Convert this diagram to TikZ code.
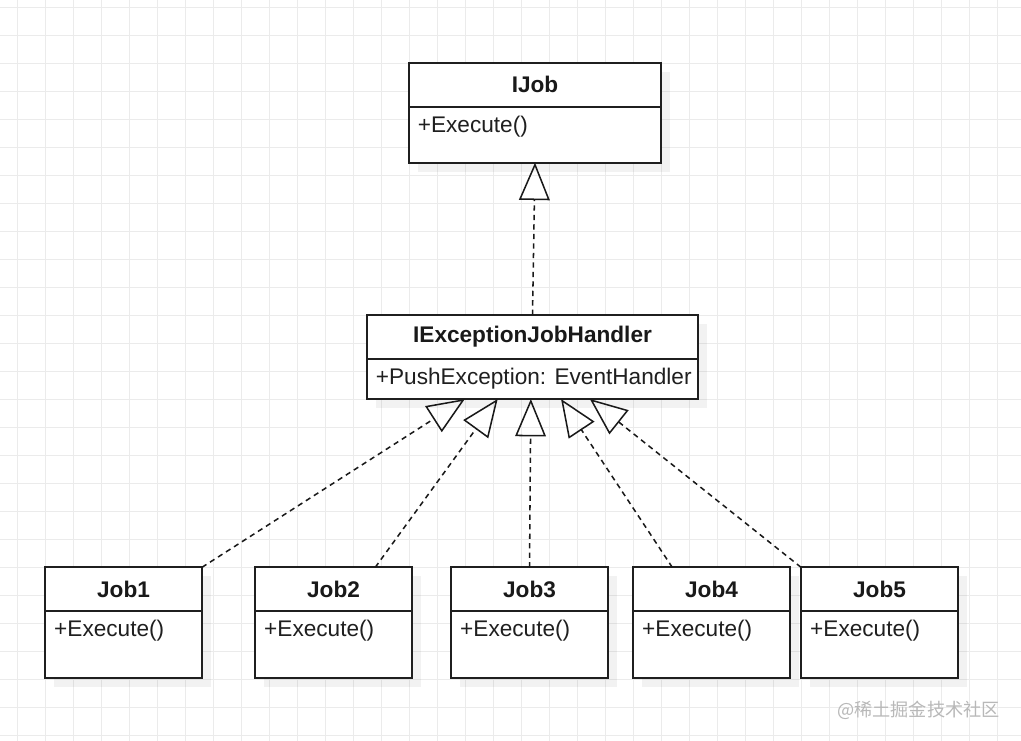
\documentclass[tikz,border=0pt]{standalone}
\usepackage{fontspec}
\setmainfont{Liberation Sans}
\newfontfamily\cjkfont{Noto Sans CJK SC}
\usetikzlibrary{arrows.meta,positioning,calc,shadows}

\begin{document}
\begin{tikzpicture}[x=0.03cm, y=-0.03cm,
  umlhead/.style={draw=black!88, line width=1.5pt, fill=white, inner sep=0pt, outer sep=0pt,
    font=\fontsize{19.3}{23}\selectfont\bfseries, text=black!90,
    drop shadow={shadow xshift=0.27cm, shadow yshift=-0.27cm, opacity=0.05, fill=black}},
  umlbody/.style={umlhead, font=\fontsize{19.3}{23}\selectfont},
  member/.style={anchor=north west, inner xsep=0.27cm, inner ysep=0.27cm,
    font=\fontsize{19.3}{23}\selectfont, text=black!88},
  jobhead/.style={umlhead, anchor=north west, minimum width=4.71cm, minimum height=1.3cm},
  jobbody/.style={umlbody, below=0pt of #1, minimum width=4.71cm, minimum height=2.03cm,
    label={[member]north west:+Execute()}},
  realize/.style={dash pattern=on 4.5pt off 3.6pt, line width=1.3pt, draw=black!90,
    -{Triangle[open, length=1.12cm, width=0.92cm, line width=1.3pt]}},
  gridline/.style={draw=black!8, line width=0.6pt}
]
  % canvas and grid
  \fill[white] (0,0) rectangle (1021,741);
  \useasboundingbox (0,0) rectangle (1021,741);
  \draw[gridline, shift={(17.3,7.3)}] (-28,-28) grid[step=0.84cm] (1010,740);

  % interfaces
  \node[umlhead, anchor=north, minimum width=7.58cm, minimum height=1.32cm] (ijob) at (535,62.7) {IJob};
  \node[umlbody, below=0pt of ijob, minimum width=7.58cm, minimum height=1.68cm,
    label={[member]north west:+Execute()}] (ijobbody) {};
  \node[umlhead, anchor=north, minimum width=9.95cm, minimum height=1.32cm] (ieh) at (532.5,315) {IExceptionJobHandler};
  \node[umlbody, below=0pt of ieh, minimum width=9.95cm, minimum height=1.2cm,
    label={[member]north west:+PushException: EventHandler}] (iehbody) {};

  % jobs
  \node[jobhead] (job1) at (45,567.3) {Job1};
  \node[jobbody=job1] (job1body) {};
  \node[jobhead] (job2) at (255,567.3) {Job2};
  \node[jobbody=job2] (job2body) {};
  \node[jobhead] (job3) at (451,567.3) {Job3};
  \node[jobbody=job3] (job3body) {};
  \node[jobhead] (job4) at (633,567.3) {Job4};
  \node[jobbody=job4] (job4body) {};
  \node[jobhead] (job5) at (801,567.3) {Job5};
  \node[jobbody=job5] (job5body) {};

  % realizations
  \draw[realize] (ieh.north) -- (ijobbody.south);
  \draw[realize] (job1.north east) -- ($(iehbody.south west)!0.296!(iehbody.south east)$);
  \draw[realize] ($(job2.north west)!0.766!(job2.north east)$) -- ($(iehbody.south west)!0.395!(iehbody.south east)$);
  \draw[realize] (job3.north) -- ($(iehbody.south west)!0.495!(iehbody.south east)$);
  \draw[realize] ($(job4.north west)!0.25!(job4.north east)$) -- ($(iehbody.south west)!0.586!(iehbody.south east)$);
  \draw[realize] (job5.north west) -- ($(iehbody.south west)!0.673!(iehbody.south east)$);

  % watermark
  \node[anchor=east, inner sep=0pt, text=black!28, font=\cjkfont\fontsize{15.5}{18}\selectfont] (mark) at (1000,710) {@稀土掘金技术社区};
\end{tikzpicture}
\end{document}
